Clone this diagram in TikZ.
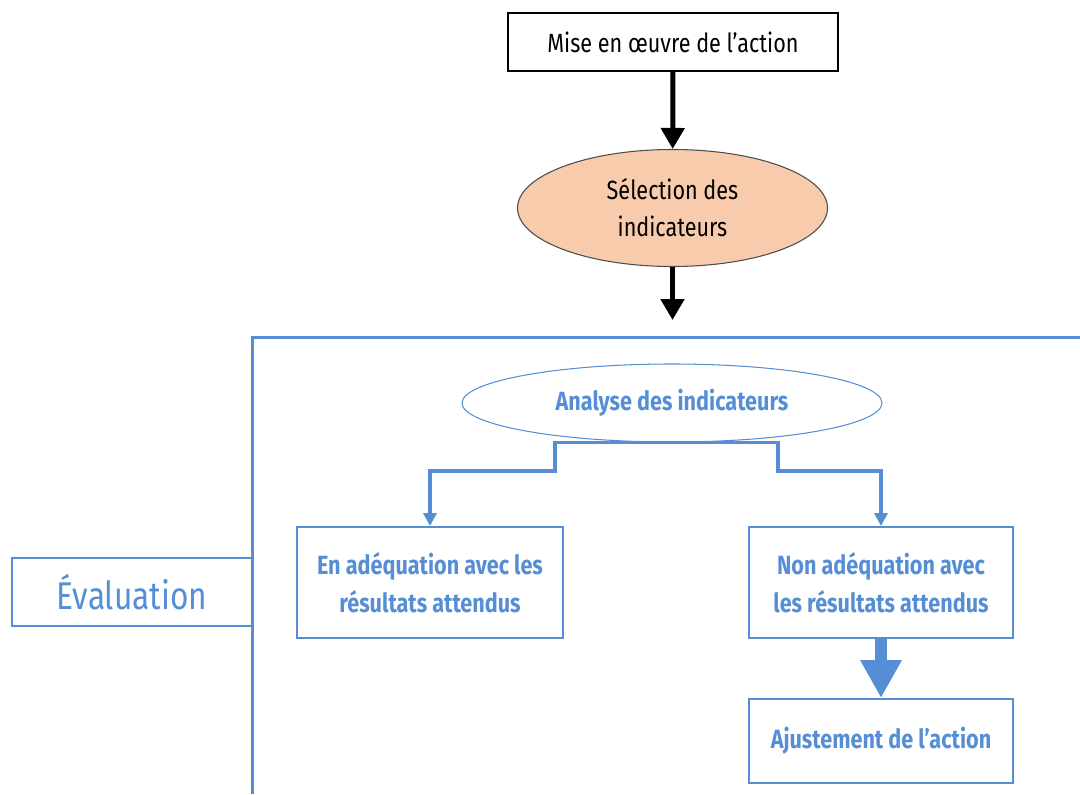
\documentclass[tikz,border=0pt]{standalone}
\usepackage{fontspec}
\setmainfont[FakeStretch=0.82]{Fira Sans}
\usepackage{tikz}
\usetikzlibrary{shapes.geometric,arrows.meta}
\definecolor{evalblue}{HTML}{558ED5}
\definecolor{peach}{HTML}{F8CBAD}
\tikzset{
	stepbox/.style={rectangle, draw=black, line width=0.8pt, font=\fontsize{15}{18}\selectfont},
	bluebox/.style={rectangle, draw=evalblue, line width=1.1pt, text=evalblue, align=center, font=\fontsize{15}{21.5}\selectfont\bfseries},
	blackarrow/.style={-{Triangle[width=0.46cm,length=0.42cm]}, line width=0.1cm},
	bluearrow/.style={-{Triangle[width=0.26cm,length=0.26cm]}, draw=evalblue, line width=2pt},
}
\begin{document}
\begin{tikzpicture}
	\useasboundingbox (0,0) rectangle (21.6,-15.88);
	\node[stepbox, minimum width=6.6cm, minimum height=1.16cm] (mise) at (13.46,-0.84) {Mise en œuvre de l’action};
	\node[ellipse, draw=black!70, fill=peach, line width=0.6pt, minimum width=6.2cm, minimum height=2.34cm, inner sep=0pt, align=center, font=\fontsize{15}{21}\selectfont] (selection) at (13.45,-4.16) {Sélection des\\indicateurs};
	\coordinate (bas) at (13.45,-6.40);
	\draw[blackarrow] (mise) to (selection);
	\draw[blackarrow] (selection) to (bas);
	\draw[draw=evalblue, line width=0.06cm] (21.6,-6.74) -| (5.04,-15.88);
	\node[bluebox, minimum width=4.8cm, minimum height=1.36cm, font=\fontsize{22}{26}\selectfont] (evaluation) at (2.64,-11.84) {Évaluation};
	\node[ellipse, draw=evalblue, line width=0.6pt, text=evalblue, minimum width=8.4cm, minimum height=1.56cm, inner sep=0pt, font=\fontsize{15}{18}\selectfont\bfseries] (analyse) at (13.44,-8.06) {Analyse des indicateurs};
	\node[bluebox, minimum width=5.32cm, minimum height=2.22cm] (adeq) at (8.6,-11.65) {En adéquation avec les\\résultats attendus};
	\node[bluebox, minimum width=5.28cm, minimum height=2.22cm] (nonadeq) at (17.62,-11.65) {Non adéquation avec\\les résultats attendus};
	\node[bluebox, minimum width=5.28cm, minimum height=1.68cm] (ajust) at (17.62,-14.82) {Ajustement de l’action};
	\draw[bluearrow] (analyse.south) -| (11.1,-9.42) -| (adeq.north);
	\draw[bluearrow] (analyse.south) -| (15.56,-9.42) -| (nonadeq.north);
	\draw[-{Triangle[width=0.78cm,length=0.76cm]}, draw=evalblue, fill=evalblue, line width=0.24cm] (nonadeq) to (ajust);
\end{tikzpicture}
\end{document}
